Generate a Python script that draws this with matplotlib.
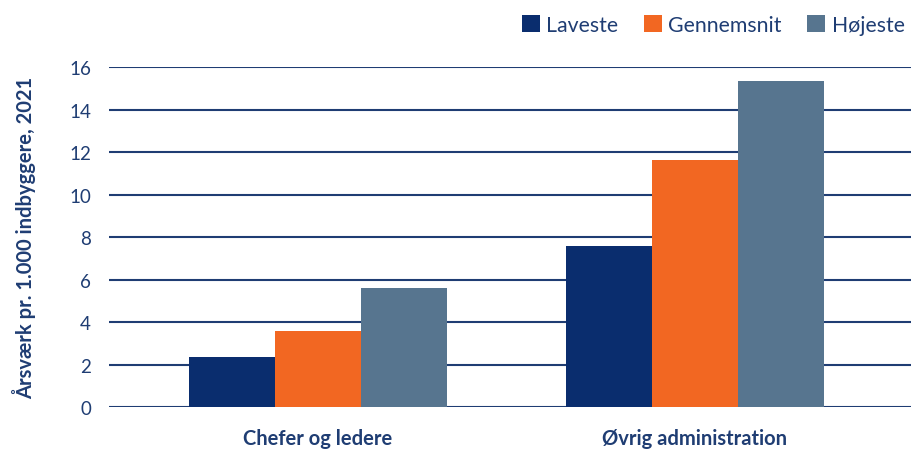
import numpy as np
import matplotlib.pyplot as plt

# data
categories = ["Chefer og ledere", "Øvrig administration"]
series = ["Laveste", "Gennemsnit", "Højeste"]
laveste = [2.35, 7.6]
gennemsnit = [3.6, 11.65]
hojeste = [5.6, 15.35]
yticks = [0, 2, 4, 6, 8, 10, 12, 14, 16]

colors = ["#0a2d6e", "#f26722", "#57758f"]
navy = "#1f3d73"

plt.rcParams['font.family'] = ['Lato', 'DejaVu Sans']

fig = plt.figure(figsize=(9.12, 4.52), dpi=100)
ax = fig.add_axes([0.1195, 0.097, 0.8805, 0.752])

x = np.arange(len(categories))
w = 0.228
for i, (vals, name) in enumerate(zip([laveste, gennemsnit, hojeste], series)):
    ax.bar(x + (i - 1) * w, vals, width=w, color=colors[i], label=name, zorder=3)

ax.set_ylim(0, 16)
ax.set_xlim(-0.554, 1.576)
ax.set_yticks(yticks)
ax.set_yticklabels([str(t) for t in yticks], fontsize=13.5, color=navy)
ax.tick_params(axis='y', length=0, pad=13)
ax.tick_params(axis='x', length=0, pad=15)
ax.set_xticks(x)
ax.set_xticklabels(categories, fontsize=14.5, fontweight='bold', color=navy)
ax.yaxis.grid(True, color=navy, linewidth=1.5, zorder=0)
for s in ax.spines.values():
    s.set_visible(False)

ax.set_ylabel("Årsværk pr. 1.000 indbyggere, 2021", fontsize=14.5, fontweight='bold',
              color=navy, labelpad=24)

leg = fig.legend(loc='upper right', bbox_to_anchor=(1.006, 0.993), ncol=3, frameon=False,
                 fontsize=15.3, handlelength=0.85, handleheight=0.85, handletextpad=0.3,
                 columnspacing=1.2, borderaxespad=0.2)
for t in leg.get_texts():
    t.set_color(navy)

fig.savefig("out.png", dpi=100)
